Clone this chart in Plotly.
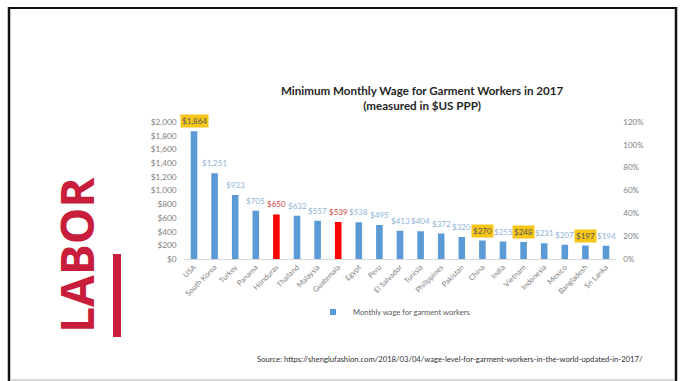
import plotly.graph_objects as go

W, H = 684, 381

# Wage data (USD PPP per month)
countries = ["USA", "South Korea", "Turkey", "Panama", "Honduras", "Thailand",
             "Malaysia", "Guatemala", "Egypt", "Peru", "El Salvador", "Tunisia",
             "Philippines", "Pakistan", "China", "India", "Vietnam", "Indonesia",
             "Mexico", "Bangladesh", "Sri Lanka"]
wages = [1864, 1251, 933, 705, 650, 632, 557, 539, 538, 495, 413, 404,
         372, 320, 270, 255, 248, 231, 207, 197, 194]
red_countries = ["Honduras", "Guatemala"]
boxed_countries = ["USA", "China", "Vietnam", "Bangladesh"]

left_ticks = list(range(0, 2001, 200))
right_ticks = [0, 0.2, 0.4, 0.6, 0.8, 1.0, 1.2]

BLUE = "#5b9bd5"
RED = "#ff0000"
LABEL_BLUE = "#8fb3d6"
LABEL_RED = "#d0433c"
YELLOW = "#f5c518"
GRAY = "#808080"
CRIMSON = "#c81e3c"
FONT = "Lato"


def px(x):
    return x / W


def py(y):
    return 1 - y / H


bar_colors = [RED if c in red_countries else BLUE for c in countries]

fig = go.Figure()
fig.add_trace(go.Bar(
    x=countries, y=wages, marker=dict(color=bar_colors, line=dict(width=0)),
    showlegend=False, hoverinfo="x+y",
))
# legend entry for the wage series
fig.add_trace(go.Scatter(
    x=[None], y=[None], mode="markers", name="Monthly wage for garment workers",
    marker=dict(symbol="square", size=6, color=BLUE), showlegend=True,
))
# secondary percent axis
fig.add_trace(go.Scatter(
    x=[countries[0]], y=[0], yaxis="y2", mode="markers",
    marker=dict(opacity=0, size=1), showlegend=False, hoverinfo="skip",
))

annotations = []
for c, v in zip(countries, wages):
    text = f"${v:,}"
    if c in boxed_countries:
        annotations.append(dict(
            x=c, y=v, xref="x", yref="y", text=text, showarrow=False,
            xanchor="center", yanchor="bottom", yshift=3, bgcolor=YELLOW, borderpad=1,
            font=dict(family=FONT, size=8, color="#595959")))
    else:
        col = LABEL_RED if c in red_countries else LABEL_BLUE
        annotations.append(dict(
            x=c, y=v, xref="x", yref="y", text=text, showarrow=False,
            xanchor="center", yanchor="bottom", yshift=3,
            font=dict(family=FONT, size=8, color=col)))

# chart title
annotations.append(dict(
    x=px(422), y=py(98), xref="paper", yref="paper", showarrow=False,
    xanchor="center", yanchor="middle",
    text="<b>Minimum Monthly Wage for Garment Workers in 2017</b><br><b>(measured in $US PPP)</b>",
    font=dict(family=FONT, size=11.6, color="#262626"), align="center"))
# source line
annotations.append(dict(
    x=px(255), y=py(359), xref="paper", yref="paper", showarrow=False,
    xanchor="left", yanchor="middle",
    text="Source: https://shenglufashion.com/2018/03/04/wage-level-for-garment-workers-in-the-world-updated-in-2017/",
    font=dict(family=FONT, size=7.7, color="#333333")))
# slide heading
annotations.append(dict(
    x=px(76), y=py(255), xref="paper", yref="paper", showarrow=False,
    xanchor="center", yanchor="middle",
    text="<b>LABOR</b>", textangle=-90,
    font=dict(family="Open Sans", size=46, color=CRIMSON)))

shapes = [
    # slide frame
    dict(type="line", xref="paper", yref="paper", x0=px(8), x1=px(677), y0=py(8), y1=py(8),
         line=dict(color="#111111", width=2)),
    dict(type="line", xref="paper", yref="paper", x0=px(9), x1=px(9), y0=py(7), y1=py(381),
         line=dict(color="#111111", width=2.5)),
    dict(type="line", xref="paper", yref="paper", x0=px(676), x1=px(676), y0=py(7), y1=py(381),
         line=dict(color="#111111", width=2.5)),
    dict(type="line", xref="paper", yref="paper", x0=px(10), x1=px(675), y0=py(380), y1=py(380),
         line=dict(color="#c8c8c8", width=1.5)),
    # accent bar next to heading
    dict(type="rect", xref="paper", yref="paper", x0=px(113), x1=px(121), y0=py(337), y1=py(254),
         fillcolor=CRIMSON, line=dict(width=0)),
]

fig.update_layout(
    width=W, height=H,
    margin=dict(l=0, r=0, t=0, b=0, autoexpand=False),
    paper_bgcolor="white", plot_bgcolor="white",
    bargap=0.68,
    showlegend=True,
    legend=dict(orientation="h", x=px(394), xanchor="center", y=py(312), yanchor="middle",
                font=dict(family=FONT, size=7.6, color="#595959"), bgcolor="rgba(0,0,0,0)",
                itemwidth=30),
    xaxis=dict(domain=[px(183.7), px(616.3)], range=[-0.5, len(countries) - 0.5],
               tickangle=-45, showgrid=False, automargin=False,
               showline=True, linecolor="#d9d9d9", linewidth=1, ticks="",
               tickfont=dict(family=FONT, size=7.5, color=GRAY), zeroline=False,
               fixedrange=True),
    yaxis=dict(domain=[py(259), py(122)], range=[0, 2000], tickvals=left_ticks,
               tickformat="$,d", showgrid=False, zeroline=False, showline=False,
               ticks="", ticklabelstandoff=6, automargin=False,
               tickfont=dict(family=FONT, size=8.3, color=GRAY)),
    yaxis2=dict(overlaying="y", side="right", range=[0, 1.2], tickvals=right_ticks,
                tickformat=".0%", showgrid=False, zeroline=False, showline=False,
                ticks="", ticklabelstandoff=6, automargin=False,
                tickfont=dict(family=FONT, size=8, color=GRAY)),
    annotations=annotations,
    shapes=shapes,
)

fig.write_html("out.html")
